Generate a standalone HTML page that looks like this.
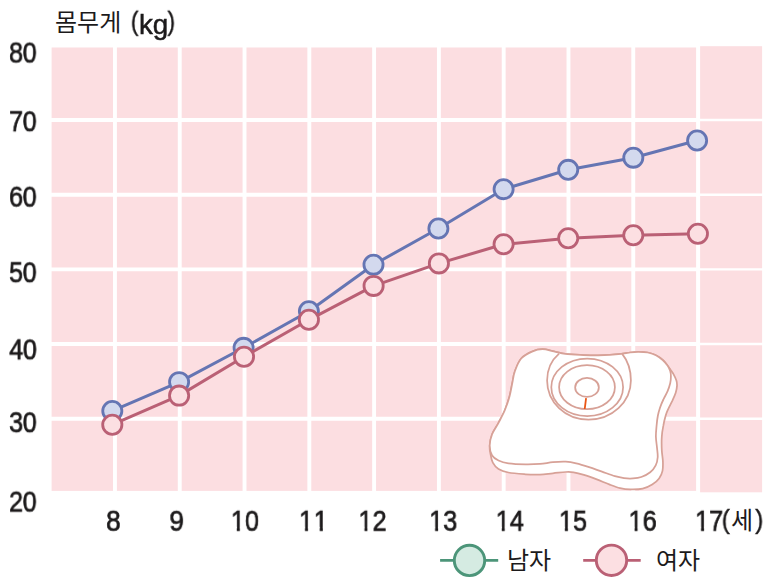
<!DOCTYPE html>
<html lang="ko"><head><meta charset="utf-8"><title>몸무게(kg)</title>
<style>
html,body{margin:0;padding:0;background:#fff}
body{width:774px;height:587px;position:relative;overflow:hidden;font-family:"Liberation Sans",sans-serif;color:#1c1a1b}
svg{position:absolute;left:0;top:0}
.one{display:inline-block;line-height:1;clip-path:polygon(0 0,100% 0,100% calc(.7718em - 1.8px),calc(.3398em + .4px) calc(.7718em - 1.8px),calc(.3398em + .4px) 100%,calc(.2515em - .4px) 100%,calc(.2515em - .4px) calc(.7718em - 1.8px),0 calc(.7718em - 1.8px))}
.h{position:absolute;height:28px;font-size:24px;line-height:28px;white-space:nowrap;overflow:visible;color:#1c1a1b;font-family:"Liberation Sans","Noto Sans CJK KR",sans-serif}
.t{position:absolute;line-height:1;white-space:nowrap;transform-origin:0 0;-webkit-text-stroke:0.7px #1c1a1b;will-change:transform}
</style></head><body>
<svg aria-hidden="true" width="774" height="587" viewBox="0 0 774 587">
<rect x="51.6" y="47.5" width="647.4" height="443.4" fill="#fcdee1"/>
<rect x="700.1" y="46.2" width="62.0" height="446.1" fill="#fcdee1"/>
<path d="M114.95 46.5V491.9M179.74 46.5V491.9M244.53 46.5V491.9M309.32 46.5V491.9M374.11 46.5V491.9M438.90 46.5V491.9M503.69 46.5V491.9M568.48 46.5V491.9M633.27 46.5V491.9M698.06 46.5V491.9M50.6 120.00H699.5M50.6 194.69H699.5M50.6 269.38H699.5M50.6 344.07H699.5M50.6 418.76H699.5" stroke="#fff" stroke-width="3.9" fill="none"/>
<path d="M699.1 120.00H763.1M699.1 194.69H763.1M699.1 269.38H763.1M699.1 344.07H763.1M699.1 418.76H763.1" stroke="#fff" stroke-width="2.4" fill="none"/>
<g fill="#fff" stroke="#d7a197" stroke-width="1.75" stroke-linejoin="round">
<path d="M489.7 445.5C490.0 442.3 490.6 438.0 492.1 434.2C493.6 430.4 496.4 426.8 498.5 422.8C500.6 418.8 503.1 414.4 504.9 410.0C506.7 405.6 508.3 401.0 509.5 396.5C510.7 392.0 511.4 387.2 512.3 383.0C513.2 378.8 513.3 375.6 514.8 371.5C516.3 367.4 518.2 361.9 521.2 358.5C524.2 355.1 529.1 352.9 532.6 351.4C536.1 349.8 539.0 349.2 542.5 349.2C546.0 349.2 550.1 350.6 553.9 351.4C557.7 352.2 560.9 353.3 565.3 353.9C569.6 354.5 574.5 354.7 580.0 354.9C585.5 355.1 591.6 355.5 598.5 355.3C605.4 355.1 616.0 354.4 621.2 353.9C626.5 353.4 627.2 352.9 630.0 352.5C632.8 352.1 635.2 351.8 638.2 351.8C641.2 351.8 644.8 351.9 647.7 352.5C650.7 353.1 653.4 353.9 655.9 355.2C658.4 356.4 660.8 358.3 662.7 360.0C664.6 361.7 666.2 363.9 667.5 365.5C668.8 367.1 669.5 368.3 670.5 369.8C671.5 371.3 672.6 372.5 673.6 374.3C674.6 376.1 675.8 378.6 676.4 380.5C677.0 382.4 677.1 383.9 677.0 385.9C676.9 387.9 676.5 390.2 675.7 392.7C674.9 395.2 673.5 398.2 672.3 400.9C671.0 403.6 669.3 406.7 668.2 409.1C667.1 411.5 666.5 412.7 665.7 415.5C664.9 418.3 663.9 422.3 663.3 425.9C662.6 429.4 662.0 432.7 661.8 436.8C661.5 440.9 661.6 446.3 661.8 450.4C662.0 454.5 662.8 457.9 662.9 461.3C663.0 464.7 663.1 468.0 662.5 470.9C661.9 473.8 660.8 476.1 659.1 478.4C657.4 480.7 654.9 482.8 652.2 484.5C649.5 486.2 646.3 487.8 642.7 488.6C639.1 489.4 634.2 489.5 630.4 489.4C626.6 489.3 623.5 488.9 620.1 488.1C616.7 487.3 613.7 486.1 609.8 484.6C605.9 483.2 601.1 481.0 596.8 479.4C592.5 477.8 587.8 476.1 583.9 474.9C580.0 473.7 576.6 472.8 573.6 472.3C570.6 471.8 569.2 471.8 565.8 472.0C562.3 472.2 557.2 472.9 552.9 473.3C548.6 473.7 544.6 474.4 540.0 474.6C535.4 474.8 530.8 474.7 525.5 474.3C520.2 473.9 512.9 473.4 508.4 472.5C503.9 471.6 501.1 470.6 498.5 469.0C495.9 467.4 494.2 465.2 492.8 462.6C491.4 460.0 490.9 456.4 490.4 453.5C489.9 450.6 489.4 448.7 489.7 445.5Z"/>
<path d="M489.7 445.5C489.7 441.9 490.6 438.0 492.1 434.2C493.6 430.4 496.4 426.8 498.5 422.8C500.6 418.8 503.1 414.4 504.9 410.0C506.7 405.6 508.3 401.0 509.5 396.5C510.7 392.0 511.4 387.2 512.3 383.0C513.2 378.8 513.3 375.6 514.8 371.5C516.3 367.4 518.2 361.9 521.2 358.5C524.2 355.1 529.1 352.9 532.6 351.4C536.1 349.8 539.0 349.2 542.5 349.2C546.0 349.2 550.1 350.6 553.9 351.4C557.7 352.2 560.9 353.3 565.3 353.9C569.6 354.5 574.5 354.7 580.0 354.9C585.5 355.1 591.6 355.5 598.5 355.3C605.4 355.1 616.0 354.4 621.2 353.9C626.5 353.4 627.2 352.9 630.0 352.5C632.8 352.1 635.2 351.8 638.2 351.8C641.2 351.8 644.8 351.9 647.7 352.5C650.7 353.1 653.4 353.9 655.9 355.2C658.4 356.4 660.8 358.3 662.7 360.0C664.6 361.7 666.2 363.7 667.5 365.5C668.8 367.3 669.6 369.1 670.2 370.9C670.8 372.7 670.9 374.3 670.9 376.4C670.9 378.4 670.8 380.7 670.2 383.2C669.6 385.7 668.6 388.7 667.5 391.4C666.4 394.1 664.6 396.8 663.4 399.5C662.1 402.2 660.9 405.0 660.0 407.7C659.1 410.4 658.5 412.5 657.9 415.5C657.3 418.5 656.9 421.9 656.6 425.5C656.3 429.1 655.8 433.1 655.9 436.8C656.0 440.5 656.7 444.3 657.0 447.7C657.3 451.1 657.9 454.2 657.7 457.2C657.5 460.1 657.0 462.9 655.7 465.4C654.5 467.9 652.6 470.3 650.2 472.2C647.8 474.1 644.2 476.0 641.3 477.0C638.4 478.0 635.9 478.2 633.0 478.4C630.1 478.6 627.0 478.5 624.0 478.1C621.0 477.7 618.6 477.3 614.9 476.2C611.2 475.1 606.3 473.2 602.0 471.7C597.7 470.2 593.4 468.5 589.1 467.1C584.8 465.7 580.1 464.2 576.2 463.3C572.3 462.4 569.7 461.9 565.8 461.7C561.9 461.5 557.2 461.8 552.9 462.2C548.6 462.6 544.6 463.5 540.0 463.9C535.4 464.2 530.8 464.4 525.5 464.3C520.2 464.2 512.9 463.9 508.4 463.3C503.9 462.7 501.2 461.8 498.5 460.5C495.8 459.2 493.6 458.0 492.1 455.5C490.6 453.0 489.7 449.1 489.7 445.5Z"/>
</g>
<g fill="none" stroke="#d7a197" stroke-width="1.75">
<path d="M559.1 353.6C551 360.5 547.1 370 547.1 380.5C547.1 402 565 419.6 588.5 419.6C612 419.6 630.9 402 630.9 380.5C630.9 370 627.5 360.5 622.2 353.9"/>
<ellipse cx="587.2" cy="387.3" rx="35.9" ry="28.8"/>
<ellipse cx="587" cy="387.2" rx="27.9" ry="22"/>
<ellipse cx="587" cy="387.4" rx="11.85" ry="9.45"/>
</g>
<path d="M586.1 398.2L584.7 409" stroke="#ea5514" stroke-width="1.8" fill="none"/>
<path d="M112.3 410.9L179.1 382.1L243.6 347.8L308.9 311.2L373.5 264.7L438.4 228.5L503.6 189.2L568.2 169.8L633.3 157.7L697.1 140.5" fill="none" stroke="#6575b3" stroke-width="3.0" stroke-linejoin="round"/><g fill="#d3d9ee" stroke="#6575b3" stroke-width="2.8"><circle cx="112.3" cy="410.9" r="9.55"/><circle cx="179.1" cy="382.1" r="9.55"/><circle cx="243.6" cy="347.8" r="9.55"/><circle cx="308.9" cy="311.2" r="9.55"/><circle cx="373.5" cy="264.7" r="9.55"/><circle cx="438.4" cy="228.5" r="9.55"/><circle cx="503.6" cy="189.2" r="9.55"/><circle cx="568.2" cy="169.8" r="9.55"/><circle cx="633.3" cy="157.7" r="9.55"/><circle cx="697.1" cy="140.5" r="9.55"/></g>
<path d="M112.3 424.7L179.1 395.6L244.0 356.8L308.9 319.8L373.6 285.9L438.9 263.4L503.6 244.3L568.2 238.3L633.3 235.2L697.9 233.8" fill="none" stroke="#ba6075" stroke-width="3.0" stroke-linejoin="round"/><g fill="#fcdfe2" stroke="#ba6075" stroke-width="2.8"><circle cx="112.3" cy="424.7" r="9.6"/><circle cx="179.1" cy="395.6" r="9.6"/><circle cx="244.0" cy="356.8" r="9.6"/><circle cx="308.9" cy="319.8" r="9.6"/><circle cx="373.6" cy="285.9" r="9.6"/><circle cx="438.9" cy="263.4" r="9.6"/><circle cx="503.6" cy="244.3" r="9.6"/><circle cx="568.2" cy="238.3" r="9.6"/><circle cx="633.3" cy="235.2" r="9.6"/><circle cx="697.9" cy="233.8" r="9.6"/></g>
<path d="M440.1 560.3H498.2" stroke="#4c9579" stroke-width="2.8"/><circle cx="469.5" cy="560.4" r="15.2" fill="#d5ebe2" stroke="#4c9579" stroke-width="2.9"/>
<path d="M583.2 560.3H640.7" stroke="#ba6075" stroke-width="2.8"/><circle cx="611.5" cy="560.3" r="15.2" fill="#fcdfe2" stroke="#ba6075" stroke-width="2.9"/>
</svg>
<div class="t" style="left:9px;top:37px;font-size:28.6px;letter-spacing:-0.4px;transform:translate(0.03px,0.59px) scale(0.88,1.03)">80</div>
<div class="t" style="left:9px;top:106px;font-size:28.6px;letter-spacing:-0.4px;transform:translate(0.03px,0.28px) scale(0.88,1.03)">70</div>
<div class="t" style="left:9px;top:181px;font-size:28.6px;letter-spacing:-0.4px;transform:translate(0.03px,0.73px) scale(0.88,1.03)">60</div>
<div class="t" style="left:9px;top:257px;font-size:28.6px;letter-spacing:-0.4px;transform:translate(0.01px,0.29px) scale(0.88,1.03)">50</div>
<div class="t" style="left:9px;top:334px;font-size:28.6px;letter-spacing:-0.4px;transform:translate(0.26px,0.42px) scale(0.88,1.03)">40</div>
<div class="t" style="left:9px;top:407px;font-size:28.6px;letter-spacing:-0.4px;transform:translate(0.09px,0.28px) scale(0.88,1.03)">30</div>
<div class="t" style="left:9px;top:486px;font-size:28.6px;letter-spacing:-0.4px;transform:translate(0.03px,0.68px) scale(0.88,1.03)">20</div>
<div class="t" style="left:106px;top:505px;font-size:28.6px;letter-spacing:-0.4px;transform:translate(0.10px,0.85px) scale(0.915,1.03)">8</div>
<div class="t" style="left:169px;top:505px;font-size:28.6px;letter-spacing:-0.4px;transform:translate(0.40px,0.82px) scale(0.915,1.03)">9</div>
<div class="t" style="left:230px;top:505px;font-size:28.6px;letter-spacing:0.0px;transform:translate(0.88px,0.84px) scale(0.88,1.03)"><span class="one">1</span>0</div>
<div class="t" style="left:299px;top:505px;font-size:28.6px;letter-spacing:0.9px;transform:translate(0.02px,0.77px) scale(0.88,1.03)"><span class="one">1</span><span class="one">1</span></div>
<div class="t" style="left:358px;top:505px;font-size:28.6px;letter-spacing:0.0px;transform:translate(0.49px,0.85px) scale(0.88,1.03)"><span class="one">1</span>2</div>
<div class="t" style="left:429px;top:505px;font-size:28.6px;letter-spacing:0.0px;transform:translate(0.15px,0.85px) scale(0.88,1.03)"><span class="one">1</span>3</div>
<div class="t" style="left:495px;top:505px;font-size:28.6px;letter-spacing:0.0px;transform:translate(0.79px,0.86px) scale(0.88,1.03)"><span class="one">1</span>4</div>
<div class="t" style="left:558px;top:505px;font-size:28.6px;letter-spacing:0.0px;transform:translate(0.93px,0.86px) scale(0.88,1.03)"><span class="one">1</span>5</div>
<div class="t" style="left:628px;top:505px;font-size:28.6px;letter-spacing:0.0px;transform:translate(0.61px,0.85px) scale(0.88,1.03)"><span class="one">1</span>6</div>
<div class="t" style="left:695px;top:505px;font-size:28.6px;letter-spacing:0.0px;transform:translate(0.07px,0.86px) scale(0.88,1.03)"><span class="one">1</span>7</div>
<div class="t" style="left:721px;top:507px;font-size:26.8px;letter-spacing:0px;-webkit-text-stroke-width:0.45px;transform:translate(0.74px,0.12px) scale(0.9,0.96)">(</div>
<div class="t" style="left:755px;top:507px;font-size:26.8px;letter-spacing:0px;-webkit-text-stroke-width:0.45px;transform:translate(0.24px,0.05px) scale(0.9,0.96)">)</div>
<div class="t" style="left:130px;top:8px;font-size:26.8px;letter-spacing:0px;-webkit-text-stroke-width:0.45px;transform:translate(0.84px,0.80px) scale(0.85,0.965)">(</div>
<div class="t" style="left:138px;top:11px;font-size:26.5px;letter-spacing:-0.2px;-webkit-text-stroke-width:0.45px;transform:translate(0.98px,0.11px) scale(1.05,1.05)">kg</div>
<div class="t" style="left:167px;top:8px;font-size:26.8px;letter-spacing:0px;-webkit-text-stroke-width:0.45px;transform:translate(0.49px,0.80px) scale(0.85,0.965)">)</div>
<span class="h" style="left:55px;top:9px;width:72px">몸무게</span>
<span class="h" style="left:731px;top:507px;width:23px">세</span>
<span class="h" style="left:507px;top:547px;width:48px">남자</span>
<span class="h" style="left:656px;top:547px;width:48px">여자</span>
</body></html>
